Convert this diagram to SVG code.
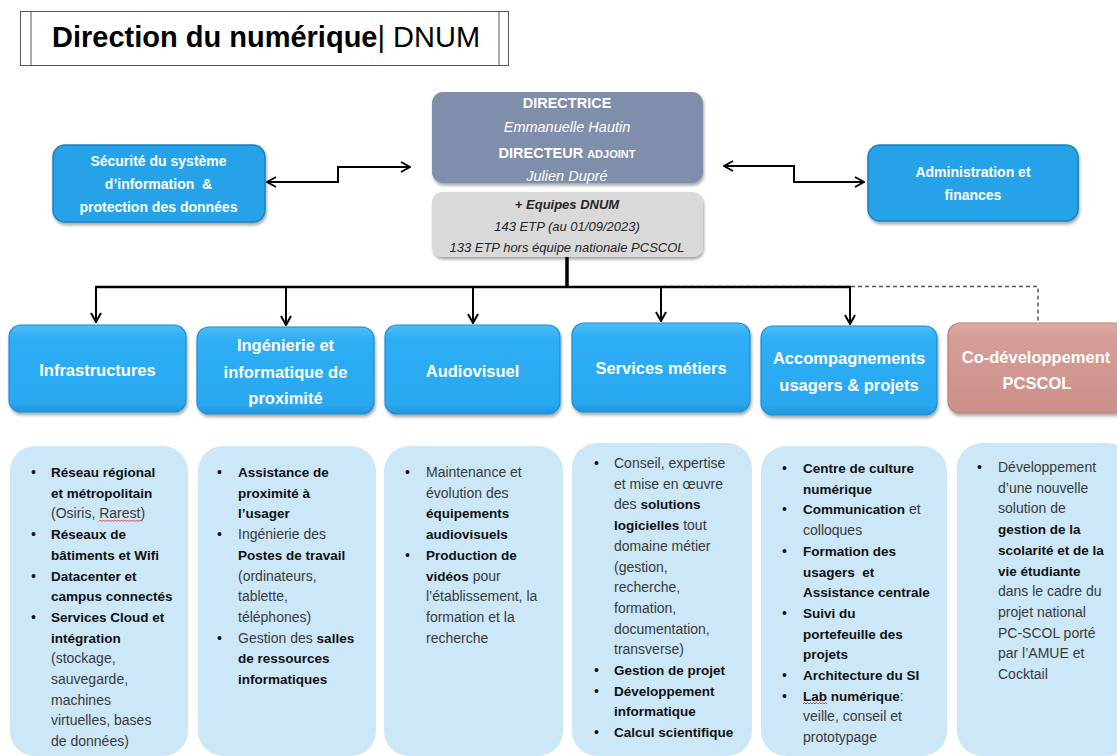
<svg xmlns="http://www.w3.org/2000/svg" width="1117" height="756" viewBox="0 0 1117 756">
<defs>
<style>
text{font-family:"Liberation Sans",Arial,sans-serif}
.hdr{font-size:16.5px;font-weight:bold;fill:#fff;text-anchor:middle}
.side{font-size:14px;font-weight:bold;fill:#fff;text-anchor:middle}
.dir{font-size:14.5px;fill:#fff;text-anchor:middle}
.grey{font-size:13px;font-style:italic;fill:#262626;text-anchor:middle}
.body{font-size:14px;fill:#3a3a3a}
.b{font-size:13.5px;font-weight:bold;fill:#111}
.bul{font-size:14px;fill:#111}
.blue{fill:url(#gBlue);stroke:#1b8ed6;stroke-width:1.2}
.sideBox{fill:#27a3e8;stroke:#1d7fc0;stroke-width:1.5}
.pink{fill:url(#gPink);stroke:#b98079;stroke-width:1.2}
.panel{fill:#cce7f8}
.conn{fill:none;stroke:#000;stroke-width:2}
.wavy{fill:none;stroke:#e03030;stroke-width:0.9}
</style>
<linearGradient id="gBlue" x1="0" y1="0" x2="0" y2="1">
<stop offset="0" stop-color="#4dbdf8"/>
<stop offset="0.15" stop-color="#2eaef5"/>
<stop offset="0.9" stop-color="#29a8f0"/>
<stop offset="1" stop-color="#1f95dc"/>
</linearGradient>
<linearGradient id="gPink" x1="0" y1="0" x2="0" y2="1">
<stop offset="0" stop-color="#e2aaa4"/>
<stop offset="0.15" stop-color="#d69d97"/>
<stop offset="1" stop-color="#cc8f89"/>
</linearGradient>
<filter id="sh" x="-10%" y="-10%" width="130%" height="140%">
<feDropShadow dx="1" dy="2.5" stdDeviation="1.8" flood-color="#000" flood-opacity="0.35"/>
</filter>
<marker id="arr" viewBox="0 0 12 12" markerWidth="12" markerHeight="12" refX="11" refY="6" orient="auto-start-reverse" markerUnits="userSpaceOnUse">
<path d="M2,1 L11,6 L2,11" fill="none" stroke="#000" stroke-width="2"/>
</marker>
</defs>

<g id="title">
<rect x="20.5" y="11.5" width="488" height="54" fill="#fff" stroke="#555" stroke-width="1"/>
<line x1="31" y1="11.5" x2="31" y2="65.5" stroke="#555" stroke-width="1"/>
<line x1="499" y1="11.5" x2="499" y2="65.5" stroke="#555" stroke-width="1"/>
<text x="52" y="47" style="font-size:29px;fill:#000"><tspan font-weight="bold">Direction du numérique</tspan><tspan>| DNUM</tspan></text>
</g>

<g id="connectors">
<path class="conn" d="M267,182 H338 V167 H410" marker-start="url(#arr)" marker-end="url(#arr)"/>
<path class="conn" d="M724,166 H794 V182 H864" marker-start="url(#arr)" marker-end="url(#arr)"/>
<path d="M662,286.5 H1038 V323" fill="none" stroke="#555" stroke-width="1.5" stroke-dasharray="4,3"/>
<line x1="567" y1="257" x2="567" y2="288" stroke="#000" stroke-width="3.5"/>
<line x1="95" y1="287" x2="851" y2="287" stroke="#000" stroke-width="2.5"/>
<path class="conn" d="M96,287 V322" marker-end="url(#arr)"/>
<path class="conn" d="M286,287 V325" marker-end="url(#arr)"/>
<path class="conn" d="M473,287 V323" marker-end="url(#arr)"/>
<path class="conn" d="M661,287 V321" marker-end="url(#arr)"/>
<path class="conn" d="M850,287 V324" marker-end="url(#arr)"/>
</g>

<g id="directrice">
<rect x="432" y="92" width="271" height="91" rx="11" fill="#7f8eaa" filter="url(#sh)"/>
<text class="dir" x="567" y="108" font-weight="bold">DIRECTRICE</text>
<text class="dir" x="567" y="132" font-style="italic" fill="#f2f2f2">Emmanuelle Hautin</text>
<text class="dir" x="567" y="158" font-weight="bold">DIRECTEUR <tspan style="font-size:11px">ADJOINT</tspan></text>
<text class="dir" x="567" y="181" font-style="italic" fill="#f2f2f2">Julien Dupré</text>
</g>

<g id="equipes">
<rect x="432" y="192" width="271" height="65" rx="10" fill="#d9d9d9" filter="url(#sh)"/>
<text class="grey" x="567" y="209" font-weight="bold" fill="#000">+ Equipes DNUM</text>
<text class="grey" x="567" y="231">143 ETP (au 01/09/2023)</text>
<text class="grey" x="567" y="252">133 ETP hors équipe nationale PCSCOL</text>
</g>

<g id="securite">
<rect class="sideBox" x="53" y="145" width="212" height="77" rx="12" filter="url(#sh)"/>
<text class="side" x="158.5" y="166">Sécurité du système</text>
<text class="side" x="158.5" y="189" xml:space="preserve">d’information  &amp;</text>
<text class="side" x="158.5" y="212">protection des données</text>
</g>

<g id="administration">
<rect class="sideBox" x="868" y="145" width="210" height="76" rx="12" filter="url(#sh)"/>
<text class="side" x="973" y="177">Administration et</text>
<text class="side" x="973" y="200">finances</text>
</g>

<g id="infrastructures">
<rect class="blue" x="9" y="325" width="177" height="87" rx="12" filter="url(#sh)"/>
<text class="hdr" x="97.5" y="376">Infrastructures</text>
</g>
<g id="ingenierie">
<rect class="blue" x="197" y="327" width="177" height="87" rx="12" filter="url(#sh)"/>
<text class="hdr" x="285.5" y="351">Ingénierie et</text>
<text class="hdr" x="285.5" y="378">informatique de</text>
<text class="hdr" x="285.5" y="404">proximité</text>
</g>
<g id="audiovisuel">
<rect class="blue" x="385" y="325" width="175" height="89" rx="12" filter="url(#sh)"/>
<text class="hdr" x="472.5" y="377">Audiovisuel</text>
</g>
<g id="services">
<rect class="blue" x="572" y="323" width="178" height="89" rx="12" filter="url(#sh)"/>
<text class="hdr" x="661" y="374">Services métiers</text>
</g>
<g id="accompagnements">
<rect class="blue" x="761" y="326" width="176" height="89" rx="12" filter="url(#sh)"/>
<text class="hdr" x="849" y="364">Accompagnements</text>
<text class="hdr" x="849" y="391">usagers &amp; projets</text>
</g>
<g id="codev">
<rect class="pink" x="948" y="323" width="180" height="90" rx="12" filter="url(#sh)"/>
<text class="hdr" x="1036" y="363">Co-développement</text>
<text class="hdr" x="1037" y="389">PCSCOL</text>
</g>

<g id="panel-infrastructures">
<rect class="panel" x="10" y="446" width="178" height="310" rx="25"/>
<text class="bul" x="31" y="477">•</text>
<text class="b" x="51" y="477">Réseau régional</text>
<text class="b" x="51" y="497.7">et métropolitain</text>
<text class="body" x="51" y="518.4">(Osiris, Rarest)</text>
<path class="wavy" d="M99,521.5 l1.5,-1.5 l1.5,1.5 l1.5,-1.5 l1.5,1.5 l1.5,-1.5 l1.5,1.5 l1.5,-1.5 l1.5,1.5 l1.5,-1.5 l1.5,1.5 l1.5,-1.5 l1.5,1.5 l1.5,-1.5 l1.5,1.5 l1.5,-1.5 l1.5,1.5 l1.5,-1.5 l1.5,1.5 l1.5,-1.5 l1.5,1.5 l1.5,-1.5 l1.5,1.5 l1.5,-1.5 l1.5,1.5 l1.5,-1.5 l1.5,1.5 l1.5,-1.5 l1.5,1.5"/>
<text class="bul" x="31" y="539.1">•</text>
<text class="b" x="51" y="539.1">Réseaux de</text>
<text class="b" x="51" y="559.8">bâtiments et Wifi</text>
<text class="bul" x="31" y="580.5">•</text>
<text class="b" x="51" y="580.5">Datacenter et</text>
<text class="b" x="51" y="601.2">campus connectés</text>
<text class="bul" x="31" y="621.9">•</text>
<text class="b" x="51" y="621.9">Services Cloud et</text>
<text class="b" x="51" y="642.6">intégration</text>
<text class="body" x="51" y="663.3">(stockage,</text>
<text class="body" x="51" y="684">sauvegarde,</text>
<text class="body" x="51" y="704.7">machines</text>
<text class="body" x="51" y="725.4">virtuelles, bases</text>
<text class="body" x="51" y="746.1">de données)</text>
</g>

<g id="panel-ingenierie">
<rect class="panel" x="198" y="446" width="178" height="310" rx="25"/>
<text class="bul" x="217" y="477">•</text>
<text class="b" x="238" y="477">Assistance de</text>
<text class="b" x="238" y="497.7">proximité à</text>
<text class="b" x="238" y="518.4">l’usager</text>
<text class="bul" x="217" y="539.1">•</text>
<text class="body" x="238" y="539.1">Ingénierie des</text>
<text class="b" x="238" y="559.8">Postes de travail</text>
<text class="body" x="238" y="580.5">(ordinateurs,</text>
<text class="body" x="238" y="601.2">tablette,</text>
<text class="body" x="238" y="621.9">téléphones)</text>
<text class="bul" x="217" y="642.6">•</text>
<text class="body" x="238" y="642.6">Gestion des <tspan class="b">salles</tspan></text>
<text class="b" x="238" y="663.3">de ressources</text>
<text class="b" x="238" y="684">informatiques</text>
</g>

<g id="panel-audiovisuel">
<rect class="panel" x="384" y="446" width="179" height="310" rx="25"/>
<text class="bul" x="405" y="477">•</text>
<text class="body" x="426" y="477">Maintenance et</text>
<text class="body" x="426" y="497.7">évolution des</text>
<text class="b" x="426" y="518.4">équipements</text>
<text class="b" x="426" y="539.1">audiovisuels</text>
<text class="bul" x="405" y="559.8">•</text>
<text class="b" x="426" y="559.8">Production de</text>
<text class="body" x="426" y="580.5"><tspan class="b">vidéos</tspan> pour</text>
<text class="body" x="426" y="601.2">l’établissement, la</text>
<text class="body" x="426" y="621.9">formation et la</text>
<text class="body" x="426" y="642.6">recherche</text>
</g>

<g id="panel-services">
<rect class="panel" x="572" y="443" width="180" height="313" rx="25"/>
<text class="bul" x="594" y="468">•</text>
<text class="body" x="614" y="468">Conseil, expertise</text>
<text class="body" x="614" y="488.7">et mise en œuvre</text>
<text class="body" x="614" y="509.4">des <tspan class="b">solutions</tspan></text>
<text class="body" x="614" y="530.1"><tspan class="b">logicielles</tspan> tout</text>
<text class="body" x="614" y="550.8">domaine métier</text>
<text class="body" x="614" y="571.5">(gestion,</text>
<text class="body" x="614" y="592.2">recherche,</text>
<text class="body" x="614" y="612.9">formation,</text>
<text class="body" x="614" y="633.6">documentation,</text>
<text class="body" x="614" y="654.3">transverse)</text>
<text class="bul" x="594" y="675">•</text>
<text class="b" x="614" y="675">Gestion de projet</text>
<text class="bul" x="594" y="695.7">•</text>
<text class="b" x="614" y="695.7">Développement</text>
<text class="b" x="614" y="716.4">informatique</text>
<text class="bul" x="594" y="737.1">•</text>
<text class="b" x="614" y="737.1">Calcul scientifique</text>
</g>

<g id="panel-accompagnements">
<rect class="panel" x="761" y="446" width="186" height="310" rx="25"/>
<text class="bul" x="782" y="473">•</text>
<text class="b" x="803" y="473">Centre de culture</text>
<text class="b" x="803" y="493.7">numérique</text>
<text class="bul" x="782" y="514.4">•</text>
<text class="body" x="803" y="514.4"><tspan class="b">Communication</tspan> et</text>
<text class="body" x="803" y="535.1">colloques</text>
<text class="bul" x="782" y="555.8">•</text>
<text class="b" x="803" y="555.8">Formation des</text>
<text class="b" x="803" y="576.5" xml:space="preserve">usagers  et</text>
<text class="b" x="803" y="597.2">Assistance centrale</text>
<text class="bul" x="782" y="617.9">•</text>
<text class="b" x="803" y="617.9">Suivi du</text>
<text class="b" x="803" y="638.6">portefeuille des</text>
<text class="b" x="803" y="659.3">projets</text>
<text class="bul" x="782" y="680">•</text>
<text class="b" x="803" y="680">Architecture du SI</text>
<text class="bul" x="782" y="700.7">•</text>
<text class="body" x="803" y="700.7"><tspan class="b">Lab numérique</tspan>:</text>
<path class="wavy" d="M803,704 l1.5,-1.5 l1.5,1.5 l1.5,-1.5 l1.5,1.5 l1.5,-1.5 l1.5,1.5 l1.5,-1.5 l1.5,1.5 l1.5,-1.5 l1.5,1.5 l1.5,-1.5 l1.5,1.5 l1.5,-1.5 l1.5,1.5 l1.5,-1.5 l1.5,1.5"/>
<text class="body" x="803" y="721.4">veille, conseil et</text>
<text class="body" x="803" y="742.1">prototypage</text>
</g>

<g id="panel-codev">
<rect class="panel" x="957" y="443" width="175" height="313" rx="25"/>
<text class="bul" x="977" y="472">•</text>
<text class="body" x="998" y="472">Développement</text>
<text class="body" x="998" y="492.7">d’une nouvelle</text>
<text class="body" x="998" y="513.4">solution de</text>
<text class="b" x="998" y="534.1">gestion de la</text>
<text class="b" x="998" y="554.8">scolarité et de la</text>
<text class="b" x="998" y="575.5">vie étudiante</text>
<text class="body" x="998" y="596.2">dans le cadre du</text>
<text class="body" x="998" y="616.9">projet national</text>
<text class="body" x="998" y="637.6">PC-SCOL porté</text>
<text class="body" x="998" y="658.3">par l’AMUE et</text>
<text class="body" x="998" y="679">Cocktail</text>
</g>
</svg>
